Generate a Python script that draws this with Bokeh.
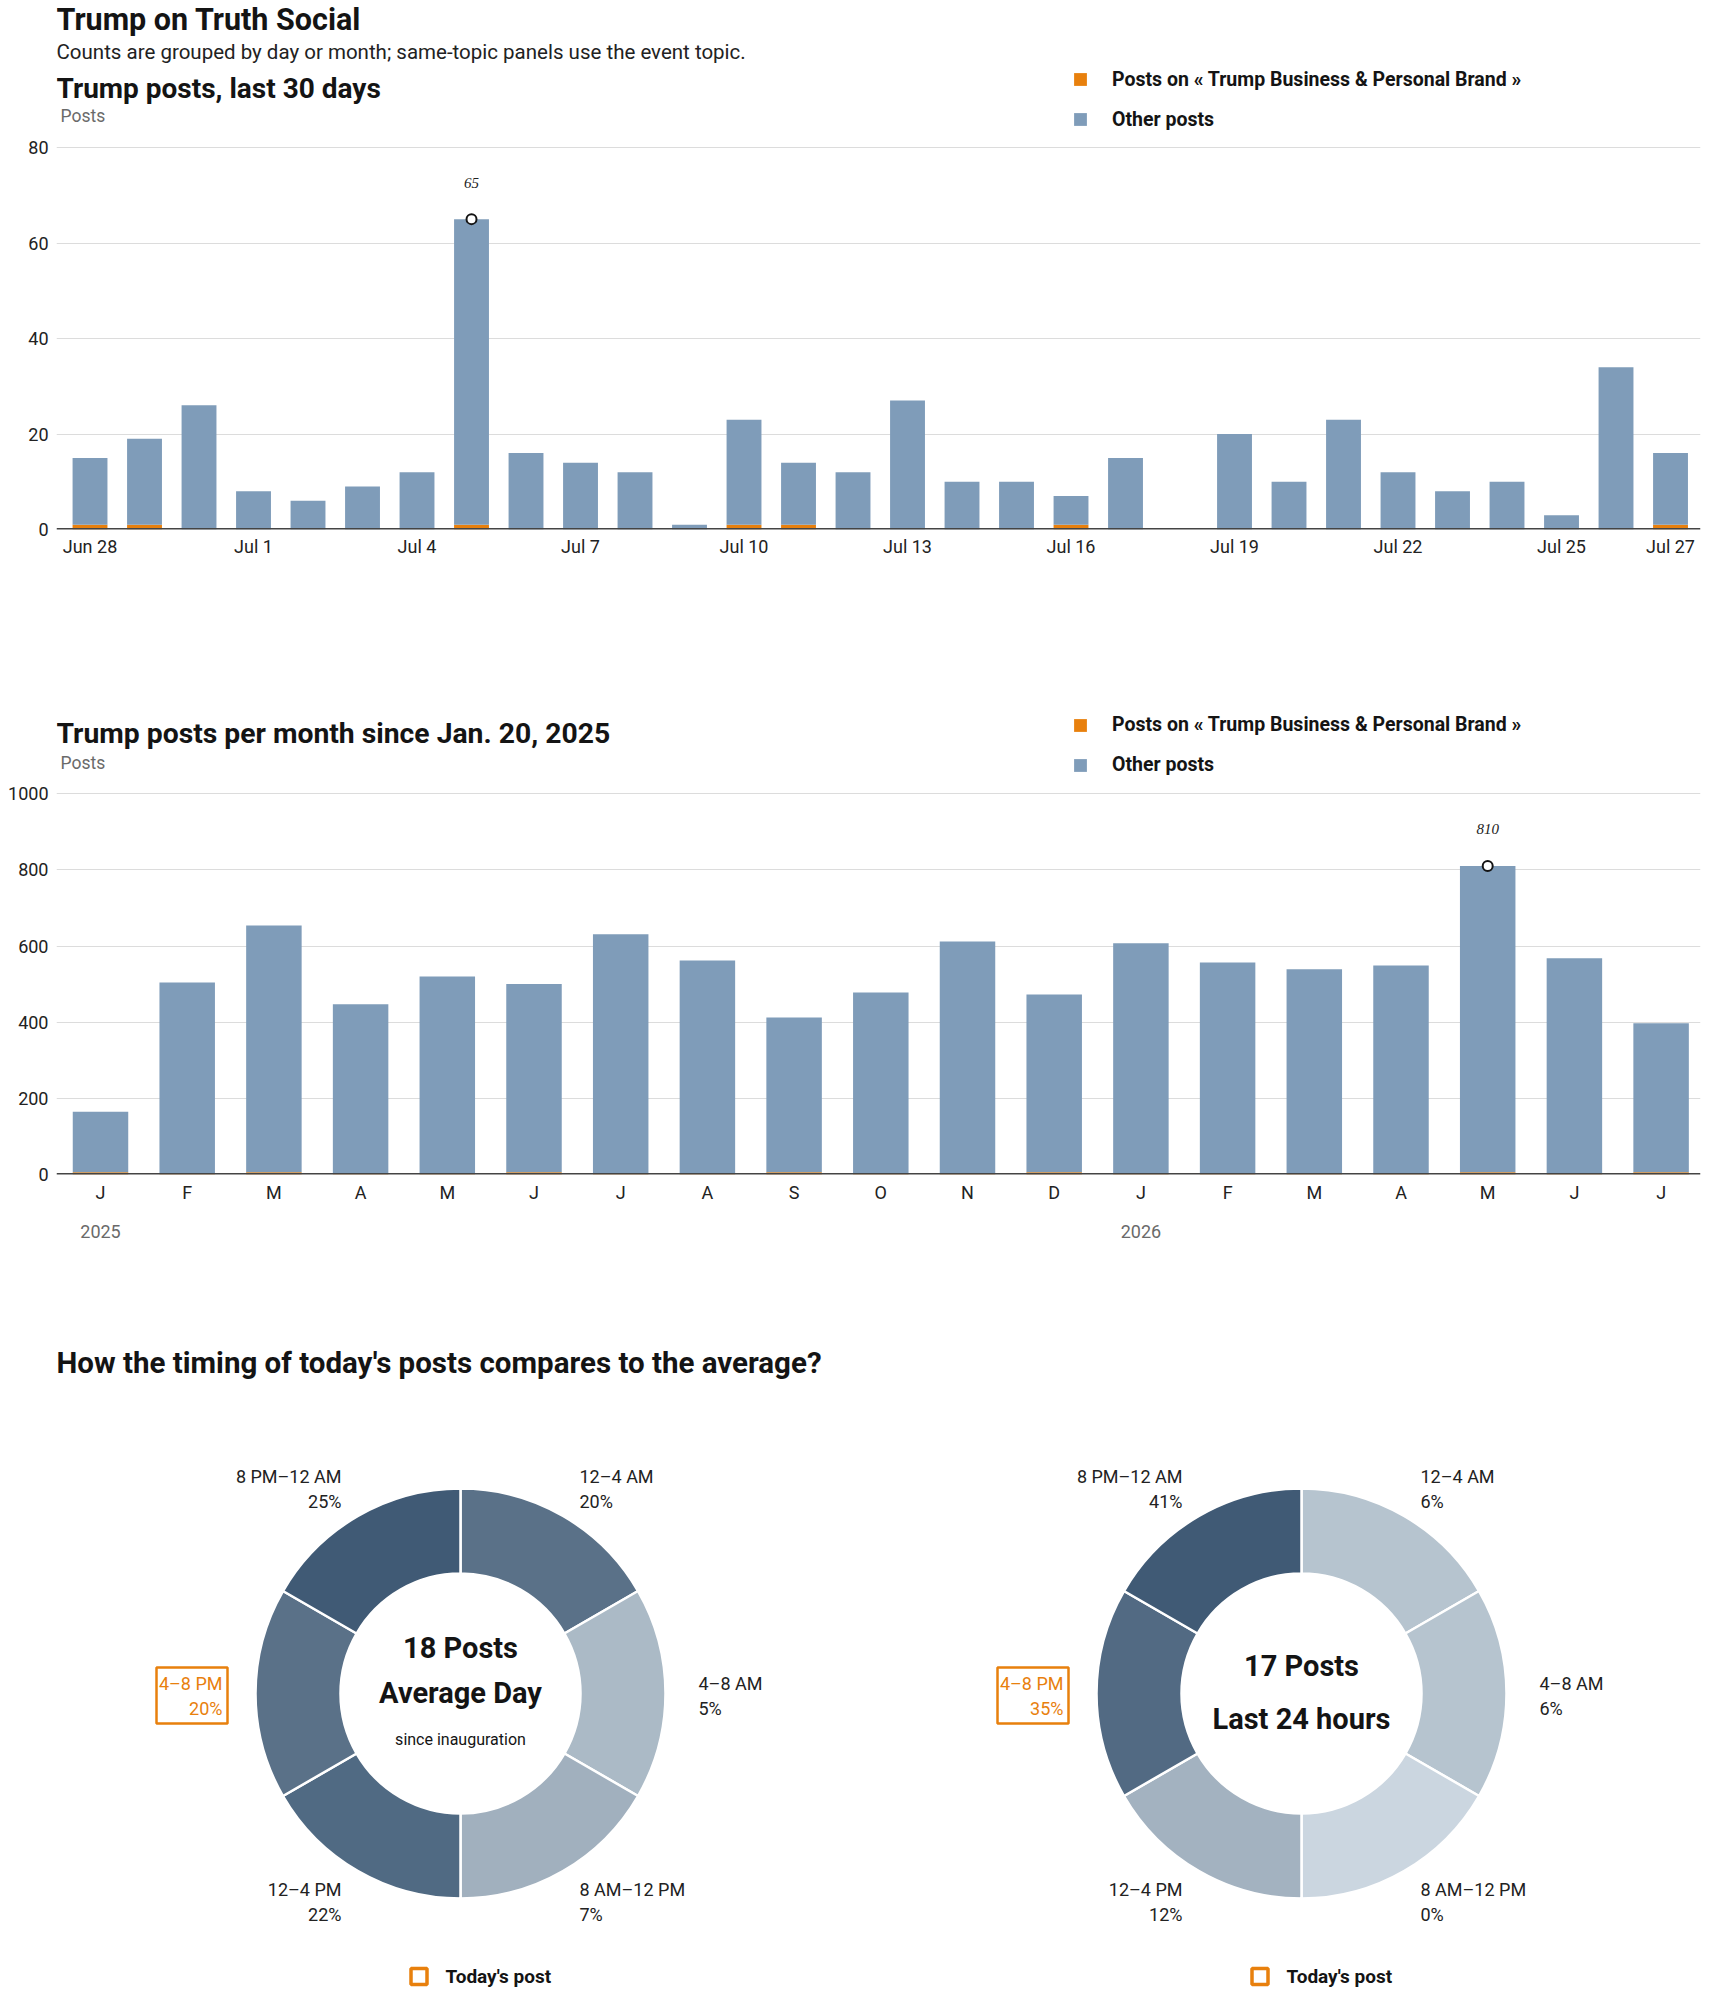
import math
from bokeh.plotting import figure
from bokeh.models import (Range1d, FixedTicker, Span, Legend, LegendItem,
                          ColumnDataSource, LinearAxis)
from bokeh.layouts import column
from bokeh.embed import file_html
from bokeh.resources import INLINE
from bokeh.core.properties import value

# ---------------- data ----------------
day_labels = ["Jun 28", "Jun 29", "Jun 30", "Jul 1", "Jul 2", "Jul 3", "Jul 4", "Jul 5",
              "Jul 6", "Jul 7", "Jul 8", "Jul 9", "Jul 10", "Jul 11", "Jul 12", "Jul 13",
              "Jul 14", "Jul 15", "Jul 16", "Jul 17", "Jul 18", "Jul 19", "Jul 20", "Jul 21",
              "Jul 22", "Jul 23", "Jul 24", "Jul 25", "Jul 26", "Jul 27"]
day_total = [15, 19, 26, 8, 6, 9, 12, 65, 16, 14, 12, 1, 23, 14, 12, 27, 10, 10, 7, 15,
             0, 20, 10, 23, 12, 8, 10, 3, 34, 16]
day_topic = [1, 1, 0, 0, 0, 0, 0, 1, 0, 0, 0, 0, 1, 1, 0, 0, 0, 0, 1, 0,
             0, 0, 0, 0, 0, 0, 0, 0, 0, 1]
day_tick_idx = [0, 3, 6, 9, 12, 15, 18, 21, 24, 27, 29]

month_letters = ["J", "F", "M", "A", "M", "J", "J", "A", "S", "O", "N", "D",
                 "J", "F", "M", "A", "M", "J", "J"]
month_total = [165, 504, 654, 447, 520, 500, 631, 562, 412, 478, 612, 473,
               607, 557, 539, 549, 810, 568, 397]
month_topic = [6, 2, 6, 2, 2, 6, 2, 2, 6, 2, 2, 6, 2, 2, 2, 2, 6, 2, 6]
year_ticks = {0: "2025", 12: "2026"}

slots = ["12–4 AM", "4–8 AM", "8 AM–12 PM", "12–4 PM", "4–8 PM", "8 PM–12 AM"]
avg_pct = [20, 5, 7, 22, 20, 25]
today_pct = [6, 6, 0, 12, 35, 41]
avg_posts = 18
today_posts = 17
highlight_slot = "4–8 PM"

topic_name = "Posts on « Trump Business & Personal Brand »"

# ---------------- styles ----------------
BLUE = "#7f9cb9"
ORANGE = "#e8800d"
INK = "#141414"
GRID = "#dcdcdc"
FONT = "Roboto"
avg_colors = ["#5a7188", "#abbac6", "#a1b0be", "#506a83", "#5a7188", "#405a75"]
today_colors = ["#b6c4cf", "#b6c4cf", "#cbd6e0", "#a3b2c0", "#526a83", "#405a75"]
W = 1710
LEFT, RIGHT = 56, 1700          # frame edges (page pixels)


def style_bar_fig(p, yticks, xstand):
    p.outline_line_color = None
    p.xgrid.visible = False
    p.ygrid.grid_line_color = GRID
    p.ygrid.grid_line_width = 1
    p.yaxis.ticker = FixedTicker(ticks=yticks)
    for ax in p.axis:
        ax.axis_line_color = None
        ax.major_tick_line_color = None
        ax.minor_tick_line_color = None
        ax.major_tick_out = 0
        ax.major_label_text_font = FONT
        ax.major_label_text_font_size = "18px"
        ax.major_label_text_color = "#222222"
    p.yaxis.major_label_standoff = 8
    p.xaxis.major_label_standoff = xstand
    p.add_layout(Span(location=0, dimension="width", line_color="#444444", line_width=3))


def ptext(p, x, y, txt, size, bold=False, color=INK, align="left"):
    p.text(x=[x], y=[y], text=[txt], x_range_name="px", y_range_name="px",
           text_align=align, text_baseline="middle", text_font=value(FONT),
           text_font_style="bold" if bold else "normal", text_font_size=size,
           text_color=color)


def add_legend(p, r_topic, r_other, loc):
    leg = Legend(items=[LegendItem(label=topic_name, renderers=[r_topic]),
                        LegendItem(label="Other posts", renderers=[r_other])],
                 location=loc, orientation="vertical",
                 border_line_color=None, background_fill_alpha=0,
                 padding=0, margin=0, spacing=16,
                 glyph_width=16, glyph_height=16, label_standoff=24, label_height=24,
                 label_text_font=FONT, label_text_font_style="bold",
                 label_text_font_size="19.5px", label_text_color=INK)
    p.add_layout(leg, "center")


def add_peak(p, xs, totals, offset):
    i = max(range(len(totals)), key=lambda k: totals[k])
    p.scatter(x=[xs[i]], y=[totals[i]], marker="circle", size=10, fill_color="white",
              line_color=INK, line_width=2)
    p.text(x=[xs[i]], y=[totals[i]], text=[str(totals[i])], y_offset=offset,
           text_align="center", text_baseline="middle", text_font=value("Liberation Serif"),
           text_font_style="italic", text_font_size="15px", text_color="#222222")


# ---------------- figure 1: last 30 days (page y 0..608) ----------------
F1_BOTTOM = 529
x_days = list(range(len(day_total)))
src1 = ColumnDataSource(dict(x=x_days, topic=day_topic,
                             other=[t - o for t, o in zip(day_total, day_topic)]))
p1 = figure(width=W, height=608, output_backend="svg", toolbar_location=None,
            x_range=Range1d(-0.615, -0.615 + (RIGHT - LEFT) / 54.5),
            y_range=Range1d(0, F1_BOTTOM / 4.775),
            min_border_left=LEFT, min_border_right=W - RIGHT,
            min_border_top=0, min_border_bottom=608 - F1_BOTTOM)
p1.extra_x_ranges = {"px": Range1d(LEFT, RIGHT)}
p1.extra_y_ranges = {"px": Range1d(F1_BOTTOM, 0)}
r1 = p1.vbar_stack(["topic", "other"], x="x", width=0.64, color=[ORANGE, BLUE],
                   line_color=None, source=src1)
style_bar_fig(p1, [0, 20, 40, 60, 80], 6)
p1.xaxis.ticker = FixedTicker(ticks=day_tick_idx)
p1.xaxis.major_label_overrides = {i: day_labels[i] for i in day_tick_idx}
add_peak(p1, x_days, day_total, -36)
ptext(p1, 56, 19, "Trump on Truth Social", "30.5px", bold=True)
ptext(p1, 56, 51, "Counts are grouped by day or month; same-topic panels use the event topic.",
      "20.5px", color="#222222")
ptext(p1, 56, 88, "Trump posts, last 30 days", "28px", bold=True)
ptext(p1, 60, 115, "Posts", "17.5px", color="#6a6a6a")
add_legend(p1, r1[0], r1[1], (1072 - LEFT, F1_BOTTOM - 131))

# ---------------- figure 2: per month (page y 608..1268) ----------------
F2_TOP, F2_BOTTOM = 608, 1174
x_months = list(range(len(month_total)))
src2 = ColumnDataSource(dict(x=x_months, topic=month_topic,
                             other=[t - o for t, o in zip(month_total, month_topic)]))
p2 = figure(width=W, height=660, output_backend="svg", toolbar_location=None,
            x_range=Range1d(-0.5075, -0.5075 + (RIGHT - LEFT) / 86.7),
            y_range=Range1d(0, (F2_BOTTOM - F2_TOP) / 0.3808),
            min_border_left=LEFT, min_border_right=W - RIGHT,
            min_border_top=0, min_border_bottom=660 - (F2_BOTTOM - F2_TOP))
p2.extra_x_ranges = {"px": Range1d(LEFT, RIGHT)}
p2.extra_y_ranges = {"px": Range1d(F2_BOTTOM, F2_TOP)}
r2 = p2.vbar_stack(["topic", "other"], x="x", width=0.64, color=[ORANGE, BLUE],
                   line_color=None, source=src2)
yr_axis = LinearAxis(ticker=FixedTicker(ticks=list(year_ticks.keys())),
                     major_label_overrides=year_ticks)
p2.add_layout(yr_axis, "below")
style_bar_fig(p2, [0, 200, 400, 600, 800, 1000], 7)
p2.xaxis[0].ticker = FixedTicker(ticks=x_months)
p2.xaxis[0].major_label_overrides = {i: m for i, m in enumerate(month_letters)}
yr_axis.major_label_standoff = 19
yr_axis.major_label_text_color = "#6a6a6a"
add_peak(p2, x_months, month_total, -37)
ptext(p2, 56, 733, "Trump posts per month since Jan. 20, 2025", "28.3px", bold=True)
ptext(p2, 60, 762, "Posts", "17.5px", color="#6a6a6a")
add_legend(p2, r2[0], r2[1], (1072 - LEFT, F2_BOTTOM - 776.5))

# ---------------- figure 3: donuts (page y 1268..1990) ----------------
F3_TOP, F3_BOTTOM = 1268, 1990
p3 = figure(width=W, height=F3_BOTTOM - F3_TOP, output_backend="svg", toolbar_location=None,
            x_range=Range1d(LEFT, RIGHT), y_range=Range1d(0, F3_BOTTOM - F3_TOP),
            x_axis_type=None, y_axis_type=None,
            min_border_left=LEFT, min_border_right=W - RIGHT,
            min_border_top=0, min_border_bottom=0)
p3.outline_line_color = None
p3.extra_x_ranges = {"px": Range1d(LEFT, RIGHT)}
p3.extra_y_ranges = {"px": Range1d(F3_BOTTOM, F3_TOP)}


def fy(page_y):
    return F3_BOTTOM - page_y


ptext(p3, 56, 1362, "How the timing of today's posts compares to the average?", "29.5px", bold=True)

R_IN, R_OUT, R_LAB = 120, 205, 238


def donut(cx, cy_page, pct, colors, center_lines):
    cy = fy(cy_page)
    n = len(slots)
    step = 360 / n
    src = ColumnDataSource(dict(
        start=[math.radians(90 - step * (i + 1)) for i in range(n)],
        end=[math.radians(90 - step * i) for i in range(n)],
        color=colors))
    p3.annular_wedge(x=cx, y=cy, inner_radius=R_IN, outer_radius=R_OUT,
                     start_angle="start", end_angle="end", direction="anticlock",
                     fill_color="color", line_color="white", line_width=2.5, source=src)
    for i, (name, v) in enumerate(zip(slots, pct)):
        th = math.radians(step * i + step / 2)
        lx = cx + R_LAB * math.sin(th)
        ly = cy + R_LAB * math.cos(th) - 2
        align = "left" if math.sin(th) > 0.01 else "right"
        col = ORANGE if name == highlight_slot else "#222222"
        p3.text(x=[lx, lx], y=[ly + 12.5, ly - 12.5], text=[name, f"{v}%"],
                text_align=align, text_baseline="middle", text_font=value(FONT),
                text_font_size="18px", text_color=col)
        if name == highlight_slot:
            p3.rect(x=[lx + 5 - 35.5], y=[ly], width=71, height=56, fill_color=None,
                    line_color=ORANGE, line_width=2.5)
    for txt, dy, size, bold in center_lines:
        p3.text(x=[cx], y=[cy + dy], text=[txt], text_align="center",
                text_baseline="middle", text_font=value(FONT),
                text_font_style="bold" if bold else "normal",
                text_font_size=size, text_color=INK)
    # legend for the highlighted slot
    ly = fy(1976)
    p3.rect(x=[cx - 41.5], y=[ly], width=16, height=16, fill_color=None,
            line_color=ORANGE, line_width=3.5)
    p3.text(x=[cx - 15], y=[ly], text=["Today's post"], text_baseline="middle",
            text_font=value(FONT), text_font_style="bold", text_font_size="19px",
            text_color=INK)


donut(460, 1693, avg_pct, avg_colors,
      [(f"{avg_posts} Posts", 46, "29px", True), ("Average Day", 1, "29px", True),
       ("since inauguration", -46, "16px", False)])
donut(1301, 1693, today_pct, today_colors,
      [(f"{today_posts} Posts", 28, "29px", True), ("Last 24 hours", -25, "29px", True)])

layout = column(p1, p2, p3, spacing=0)
open("out.html", "w").write(file_html(layout, INLINE))
